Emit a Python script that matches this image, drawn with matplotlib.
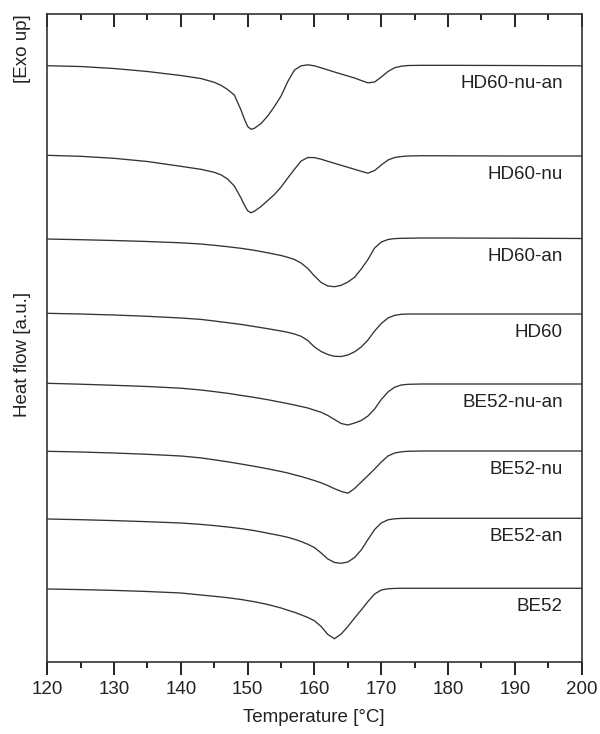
import numpy as np
import matplotlib
matplotlib.use("Agg")
import matplotlib.pyplot as plt
from matplotlib.ticker import MultipleLocator

plt.rcParams['font.family'] = ['Liberation Sans', 'DejaVu Sans']

# DSC traces; heat flow in a.u. relative to each
# trace's melt baseline (exo up), temperatures in deg C
t_nu = [120, 125, 130, 135, 140, 143, 145, 146, 147, 148, 149, 149.5, 150, 150.5,
        151, 152, 153, 154, 155, 156, 157, 158, 159, 160, 161, 162, 163, 164, 165,
        166, 167, 168, 169, 170, 171, 172, 173, 174, 176, 180, 190, 200]
t_std = [120, 125, 130, 135, 140, 143, 145, 147, 149, 151, 153, 155, 156, 157, 158,
         159, 160, 161, 162, 163, 164, 165, 166, 167, 168, 169, 170, 171, 172, 173,
         174, 176, 180, 190, 200]

hd60_nu_an = [-0.2, -1.0, -3.0, -6.0, -10.0, -13.0, -16.8, -19.8, -24.0, -29.5, -44.5,
              -53.5, -61.0, -63.8, -62.8, -58.0, -50.5, -41.0, -30.5, -16.0, -4.5, -0.3,
              0.7, -0.3, -2.3, -4.4, -6.5, -8.5, -10.5, -12.5, -15.0, -17.3, -16.5,
              -11.5, -6.0, -2.2, -0.7, 0.0, 0.2, 0.2, 0.0, -0.3]
hd60_nu = [0.7, -0.3, -2.3, -5.5, -10.3, -13.3, -16.3, -18.8, -23.0, -30.0, -42.0, -49.0,
           -54.8, -56.8, -55.2, -50.5, -44.5, -38.5, -31.0, -22.0, -13.3, -5.0, -1.5,
           -1.6, -3.2, -5.3, -7.3, -9.3, -11.3, -13.3, -15.3, -17.2, -14.5, -9.0, -4.0,
           -1.5, -0.5, 0.0, 0.3, 0.2, 0.0, 0.0]
hd60_an = [-0.5, -1.2, -2.0, -3.0, -4.3, -5.5, -6.8, -8.2, -9.8, -11.8, -14.3, -17.0,
           -18.8, -21.0, -24.5, -30.0, -37.5, -44.0, -47.5, -48.2, -46.8, -43.5, -38.8,
           -30.5, -21.0, -9.5, -3.5, -1.0, -0.1, 0.2, 0.3, 0.5, 0.5, 0.3, 0.0]
hd60 = [0.7, 0.0, -1.0, -2.3, -4.0, -5.4, -7.0, -8.7, -10.4, -12.5, -14.7, -17.0, -18.3,
        -20.0, -22.3, -26.5, -33.0, -37.5, -40.5, -42.3, -42.5, -41.0, -37.8, -33.0,
        -26.0, -17.0, -9.5, -4.0, -1.3, -0.3, 0.0, 0.0, 0.0, 0.0, 0.0]
be52_nu_an = [0.7, -0.2, -1.3, -2.5, -4.2, -6.0, -7.6, -9.3, -11.4, -13.4, -15.7, -18.3,
              -19.6, -21.0, -22.5, -24.0, -26.2, -28.3, -31.5, -35.5, -39.5, -41.0,
              -39.0, -36.5, -32.0, -25.0, -15.5, -8.0, -3.2, -1.0, -0.3, 0.0, 0.0, 0.0, 0.0]
be52_nu = [-0.3, -1.0, -2.0, -3.3, -5.0, -6.9, -8.8, -10.8, -13.0, -15.3, -17.8, -20.5,
           -22.0, -23.8, -25.5, -27.5, -29.6, -31.8, -34.6, -37.7, -40.4, -42.2, -37.5,
           -31.0, -24.6, -18.0, -11.0, -5.0, -2.0, -0.8, -0.3, 0.0, 0.0, 0.0, 0.0]
be52_an = [-0.7, -1.4, -2.3, -3.4, -4.7, -6.1, -7.3, -8.7, -10.3, -12.3, -14.9, -17.5,
           -19.0, -20.9, -23.2, -26.0, -29.3, -34.7, -40.7, -44.2, -45.0, -43.7, -39.2,
           -31.7, -21.2, -11.2, -4.7, -1.5, -0.5, -0.1, 0.0, 0.0, 0.0, 0.0, 0.0]
be52 = [-0.7, -1.3, -2.1, -3.2, -4.7, -6.7, -8.0, -9.4, -11.2, -13.4, -16.2, -19.7,
        -21.9, -24.0, -26.5, -29.2, -32.5, -38.2, -46.2, -50.4, -45.7, -38.2, -29.7,
        -21.7, -13.2, -5.7, -1.7, -0.5, -0.1, 0.0, 0.0, 0.0, 0.0, 0.0, 0.0]

names = ['HD60-nu-an', 'HD60-nu', 'HD60-an', 'HD60',
         'BE52-nu-an', 'BE52-nu', 'BE52-an', 'BE52']
temps = [t_nu, t_nu, t_std, t_std, t_std, t_std, t_std, t_std]
curves = [hd60_nu_an, hd60_nu, hd60_an, hd60, be52_nu_an, be52_nu, be52_an, be52]
# vertical stacking of the traces
offsets = [596.5, 506, 423.5, 348, 278, 211, 143.7, 73.7]

ink = '#222222'
fig = plt.figure(figsize=(6.0, 7.34), dpi=100)
ax = fig.add_axes([0.0788, 0.0981, 0.8907, 0.8828])

for name, t, c, off in zip(names, temps, curves, offsets):
    ax.plot(t, np.array(c) + off, color='#333333', lw=0.95,
            solid_joinstyle='round')
    ax.text(197.2, off - 18, name, ha='right', va='center', fontsize=13.5, color=ink)

ax.set_xlim(120, 200)
ax.set_ylim(0, 648)
ax.xaxis.set_major_locator(MultipleLocator(10))
ax.xaxis.set_minor_locator(MultipleLocator(5))
ax.set_yticks([])
ax.tick_params(axis='x', which='both', direction='out', top=True, labeltop=False,
               width=1.4, colors=ink, labelsize=13.5, pad=5)
ax.tick_params(axis='x', which='major', length=9)
ax.tick_params(axis='x', which='minor', length=4.5)
for s in ax.spines.values():
    s.set_linewidth(1.2)
    s.set_color('#333333')
# top ticks point into the frame
for tk in ax.xaxis.get_major_ticks() + ax.xaxis.get_minor_ticks():
    tk.tick2line.set_marker(3)

fig.text(0.5238, 1 - 718 / 734, 'Temperature [°C]', ha='center', va='center',
         fontsize=13.5, color=ink)
fig.text(0.037, 1 - 354 / 734, 'Heat flow [a.u.]', rotation=90, ha='center',
         va='center', fontsize=13.5, color=ink)
fig.text(0.037, 1 - 49 / 734, '[Exo up]', rotation=90, ha='center',
         va='center', fontsize=13.5, color=ink)

fig.savefig('out.png', dpi=100)
